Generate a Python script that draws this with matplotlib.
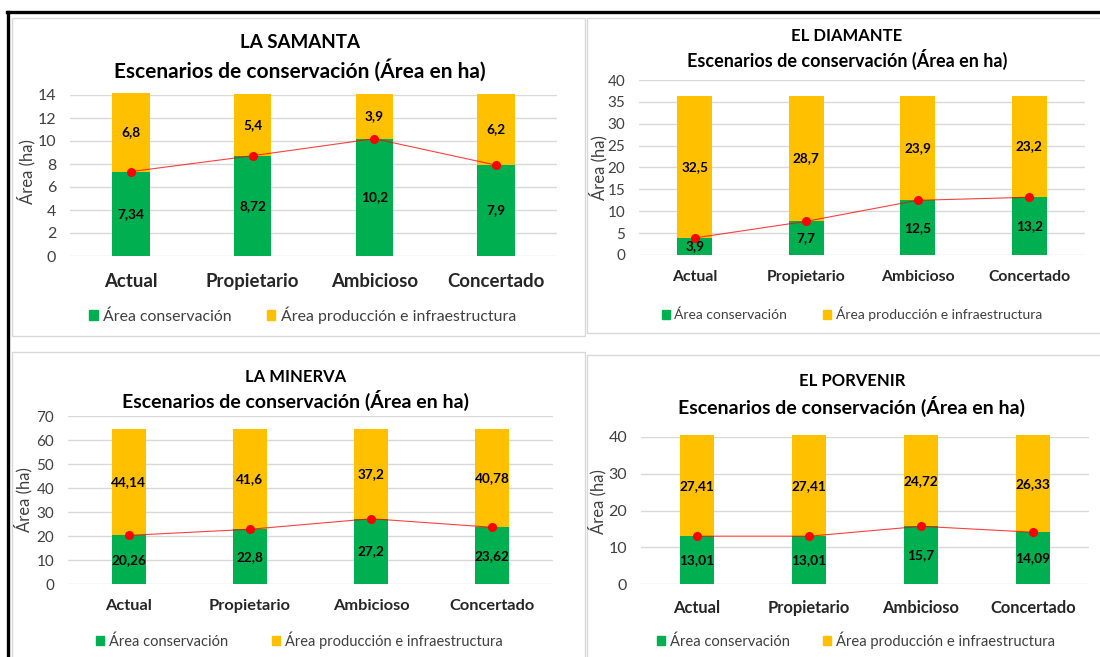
import matplotlib
matplotlib.use("Agg")
import matplotlib.pyplot as plt
from matplotlib.patches import Patch, Rectangle
from matplotlib.lines import Line2D

plt.rcParams['font.family'] = ['Lato', 'DejaVu Sans']

scenarios = ["Actual", "Propietario", "Ambicioso", "Concertado"]
farms = ["LA SAMANTA", "EL DIAMANTE", "LA MINERVA", "EL PORVENIR"]
subtitle = "Escenarios de conservación (Área en ha)"
legend_labels = ["Área conservación", "Área producción e infraestructura"]

samanta_cons = [7.34, 8.72, 10.2, 7.9]
samanta_prod = [6.8, 5.4, 3.9, 6.2]
diamante_cons = [3.9, 7.7, 12.5, 13.2]
diamante_prod = [32.5, 28.7, 23.9, 23.2]
minerva_cons = [20.26, 22.8, 27.2, 23.62]
minerva_prod = [44.14, 41.6, 37.2, 40.78]
porvenir_cons = [13.01, 13.01, 15.7, 14.09]
porvenir_prod = [27.41, 27.41, 24.72, 26.33]

y_max = [14, 40, 70, 40]
y_step = [2, 5, 10, 10]

GREEN = "#00B050"
YELLOW = "#FFC000"
RED = "#FF0000"

W, H = 1100, 657
fig = plt.figure(figsize=(W / 100, H / 100), dpi=100)
fig.patch.set_facecolor("white")


def fx(x):
    return x / W


def fy(y):
    return 1 - y / H


# layout in pixels of the reference picture
layout = [
    dict(frame=(12, 18, 585, 336), ax=(70, 95, 557, 256), tx=300, ty=(43, 70), tsize=(13.5, 15),
         ylab=(26, 172), leg=(89, 315, 2.2), xpad=12, bw=0.31, catsize=13.4, legsize=11.4,
         ticksize=11.5),
    dict(frame=(587, 18, 1104, 333), ax=(639, 80, 1085, 255), tx=847, ty=(36, 59), tsize=(12, 13),
         ylab=(598, 168), leg=(662, 314, 2.6), xpad=10.8, bw=0.31, catsize=11.3, legsize=10.0,
         ticksize=11),
    dict(frame=(12, 352, 585, 660), ax=(68, 416, 553, 584), tx=296, ty=(377, 400), tsize=(12, 14),
         ylab=(23, 500), leg=(96, 640, 3.0), xpad=10.9, bw=0.28, catsize=11.8, legsize=10.5,
         ticksize=11),
    dict(frame=(587, 355, 1104, 660), ax=(641, 437, 1089, 584), tx=852, ty=(381, 406), tsize=(12, 14),
         ylab=(597, 502), leg=(657, 640, 2.2), xpad=11.6, bw=0.31, catsize=11.9, legsize=10.6,
         ticksize=11.5),
]

cons_all = [samanta_cons, diamante_cons, minerva_cons, porvenir_cons]
prod_all = [samanta_prod, diamante_prod, minerva_prod, porvenir_prod]


def fmt(v):
    return ("%g" % v).replace(".", ",")


for i, lay in enumerate(layout):
    cons = cons_all[i]
    prod = prod_all[i]

    # panel frame
    x0, y0, x1, y1 = lay["frame"]
    fig.add_artist(Rectangle((fx(x0), fy(y1)), fx(x1 - x0), (y1 - y0) / H,
                             transform=fig.transFigure, fill=False,
                             edgecolor="#D9D9D9", lw=1.0))

    ax0, at, ax1, ab = lay["ax"]
    ax = fig.add_axes([fx(ax0), fy(ab), fx(ax1 - ax0), (ab - at) / H])
    x = list(range(len(scenarios)))

    ax.bar(x, cons, width=lay["bw"], color=GREEN, zorder=2, clip_on=False)
    ax.bar(x, prod, width=lay["bw"], bottom=cons, color=YELLOW, zorder=2, clip_on=False)
    ax.plot(x, cons, color=RED, lw=0.8, alpha=0.75, zorder=3)
    ax.plot(x, cons, "o", color=RED, ms=5.5, zorder=4)

    for xi, c, p in zip(x, cons, prod):
        ax.text(xi, c / 2, fmt(c), ha="center", va="center", fontsize=9.8,
                fontweight="bold", color="black", zorder=5)
        ax.text(xi, c + p / 2, fmt(p), ha="center", va="center", fontsize=9.8,
                fontweight="bold", color="black", zorder=5)

    ax.set_xlim(-0.5, len(scenarios) - 0.5)
    ax.set_ylim(0, y_max[i])
    ax.set_yticks(range(0, y_max[i] + 1, y_step[i]))
    ax.set_xticks(x)
    ax.set_xticklabels(scenarios, fontsize=lay["catsize"], fontweight="bold", color="#262626")
    ax.tick_params(axis="x", length=0, pad=lay["xpad"])
    ax.tick_params(axis="y", length=0, pad=10, labelsize=lay["ticksize"], labelcolor="#404040")
    ax.grid(axis="y", color="#D9D9D9", lw=1, zorder=0)
    ax.set_axisbelow(True)
    for s in ax.spines.values():
        s.set_visible(False)

    lbx, lby = lay["ylab"]
    fig.text(fx(lbx), fy(lby), "Área (ha)", rotation=90,
             ha="center", va="center", fontsize=12, color="#404040")

    fig.text(fx(lay["tx"]), fy(lay["ty"][0]), farms[i], ha="center", va="center",
             fontsize=lay["tsize"][0], fontweight="bold", color="black")
    fig.text(fx(lay["tx"]), fy(lay["ty"][1]), subtitle, ha="center", va="center",
             fontsize=lay["tsize"][1], fontweight="bold", color="black")

    handles = [Patch(color=GREEN), Patch(color=YELLOW)]
    lx, ly, cs = lay["leg"]
    ax.legend(handles, legend_labels, ncol=2, loc="center left", bbox_to_anchor=(fx(lx), fy(ly)),
              bbox_transform=fig.transFigure, frameon=False, fontsize=lay["legsize"],
              handlelength=0.55, handleheight=0.55, handletextpad=0.35, columnspacing=cs,
              borderpad=0, borderaxespad=0, labelcolor="#404040")

# black border lines of the composite
fig.add_artist(Line2D([fx(7), fx(1100)], [fy(12), fy(12)], transform=fig.transFigure,
                      color="black", lw=2.4))
fig.add_artist(Line2D([fx(8), fx(8)], [fy(12), fy(657)], transform=fig.transFigure,
                      color="black", lw=2.4))

fig.savefig("out.png", dpi=100, facecolor="white")
